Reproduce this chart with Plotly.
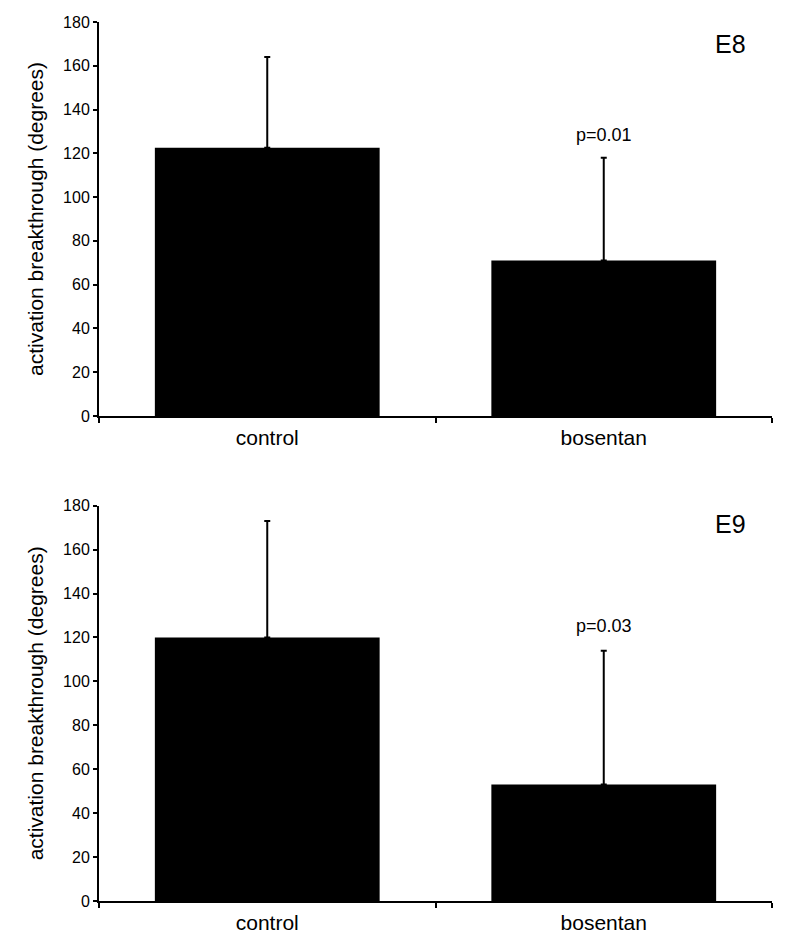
import plotly.graph_objects as go
from plotly.subplots import make_subplots

categories = ["control", "bosentan"]
e8_means = [122.5, 71.0]
e8_err = [41.5, 47.0]
e9_means = [120.0, 53.0]
e9_err = [53.0, 61.0]
panel_labels = ["E8", "E9"]
p_labels = ["p=0.01", "p=0.03"]
p_label_y = [128.5, 125.0]
y_ticks = [0, 20, 40, 60, 80, 100, 120, 140, 160, 180]

FONT = "Liberation Sans, Arial, Helvetica, sans-serif"

fig = make_subplots(rows=2, cols=1, vertical_spacing=0.1021)

for i, (means, errs) in enumerate([(e8_means, e8_err), (e9_means, e9_err)]):
    fig.add_trace(
        go.Bar(
            x=categories,
            y=means,
            width=0.668,
            marker=dict(color="black", line=dict(width=0)),
            error_y=dict(
                type="data",
                symmetric=False,
                array=errs,
                arrayminus=[0] * len(errs),
                color="black",
                thickness=2,
                width=3,
            ),
            showlegend=False,
        ),
        row=i + 1,
        col=1,
    )

fig.update_layout(
    width=800,
    height=946,
    margin=dict(l=99, r=28, t=22, b=45),
    paper_bgcolor="white",
    plot_bgcolor="white",
    font=dict(family=FONT, color="black"),
    yaxis=dict(domain=[0.5518, 1.0]),
    yaxis2=dict(domain=[0.0, 0.4497]),
)

fig.update_xaxes(
    range=[-0.5, 1.5],
    showline=True,
    linecolor="black",
    linewidth=2,
    ticks="outside",
    tickson="boundaries",
    ticklen=5,
    tickwidth=1.5,
    tickcolor="black",
    tickfont=dict(size=21, family=FONT, color="black"),
    ticklabelstandoff=2,
    showgrid=False,
    zeroline=False,
)
fig.update_yaxes(
    range=[0, 180],
    tickvals=y_ticks,
    showline=True,
    linecolor="black",
    linewidth=2,
    ticks="outside",
    ticklen=4,
    tickwidth=1.5,
    tickcolor="black",
    tickfont=dict(size=16, family=FONT, color="black"),
    showgrid=False,
    zeroline=False,
    title=dict(text="activation breakthrough (degrees)", font=dict(size=21, family=FONT, color="black"), standoff=14),
)

for i in range(2):
    xref = "x" if i == 0 else "x2"
    yref = "y" if i == 0 else "y2"
    fig.add_annotation(
        x=0.938, y=0.945 if i == 0 else 0.955,
        xref=xref + " domain", yref=yref + " domain",
        text=panel_labels[i], showarrow=False,
        font=dict(size=25, family=FONT, color="black"),
        xanchor="center", yanchor="middle",
    )
    fig.add_annotation(
        x="bosentan", y=p_label_y[i],
        xref=xref, yref=yref,
        text=p_labels[i], showarrow=False,
        font=dict(size=18, family=FONT, color="black"),
        xanchor="center", yanchor="middle",
    )

fig.write_html(
    "out.html",
    config={"displayModeBar": False},
    post_script="document.body.style.margin='0px';document.body.style.overflow='hidden';",
)
